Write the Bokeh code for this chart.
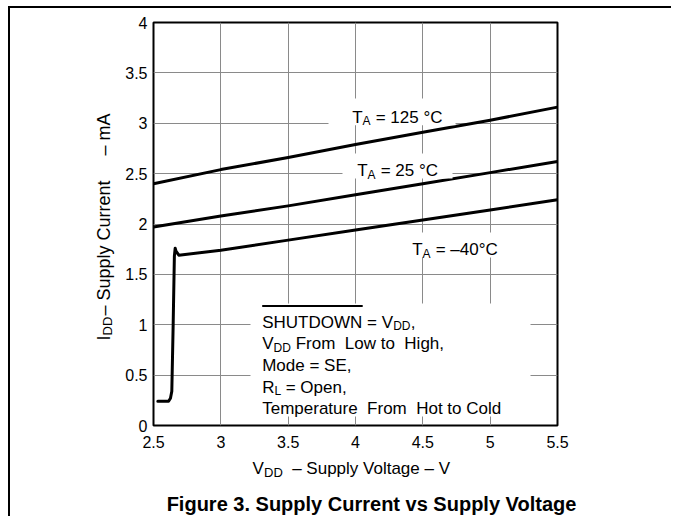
import math
from bokeh.plotting import figure
from bokeh.models import Label, Range1d, FixedTicker
from bokeh.embed import file_html
from bokeh.resources import INLINE

# ---------------- data ----------------
x_ticks = [2.5, 3.0, 3.5, 4.0, 4.5, 5.0, 5.5]
x_tick_labels = ["2.5", "3", "3.5", "4", "4.5", "5", "5.5"]
y_ticks = [0, 0.5, 1.0, 1.5, 2.0, 2.5, 3.0, 3.5, 4.0]
y_tick_labels = ["0", "0.5", "1", "1.5", "2", "2.5", "3", "3.5", "4"]

vdd_125c = [2.5, 3.0, 3.5, 4.0, 4.5, 5.0, 5.5]
idd_125c = [2.40, 2.54, 2.66, 2.79, 2.91, 3.03, 3.16]

vdd_25c = [2.5, 3.0, 3.5, 4.0, 4.5, 5.0, 5.5]
idd_25c = [1.97, 2.08, 2.18, 2.29, 2.40, 2.51, 2.62]

vdd_m40c = [2.532, 2.612, 2.626, 2.636, 2.646, 2.655, 2.661, 2.667, 2.688,
            3.0, 3.5, 4.0, 4.5, 5.0, 5.5]
idd_m40c = [0.24, 0.24, 0.27, 0.34, 1.00, 1.68, 1.76, 1.73, 1.69,
            1.74, 1.84, 1.94, 2.04, 2.14, 2.24]

# ---------------- layout helpers (page pixel -> data) ----------------
FX0, FX1, FY0, FY1 = 153.0, 557.0, 22.0, 425.0   # frame in page pixels
CX, CY = 10, 8                                   # canvas origin on the page
W, H = 663, 510


def px2x(px):
    return 2.5 + (px - FX0) / (FX1 - FX0) * 3.0


def px2y(py):
    return (FY1 - py) / (FY1 - FY0) * 4.0


FONT = "Liberation Sans"
TICK = 16
AX = 17
ANN = 17
SUB = 12
NB = "\u00a0"

p = figure(width=W, height=H, x_range=Range1d(2.5, 5.5), y_range=Range1d(0, 4),
           output_backend="svg", toolbar_location=None,
           min_border_left=int(FX0 - CX), min_border_right=int(CX + W - FX1),
           min_border_top=int(FY0 - CY), min_border_bottom=int(CY + H - FY1))
p.styles = {"margin-left": "8px", "margin-top": "6px",
            "border-left": "2px solid black", "border-top": "2px solid black"}
p.background_fill_color = "white"
p.border_fill_color = "white"
p.outline_line_color = "black"
p.outline_line_width = 2

for ax, ticks, labels in ((p.xaxis, x_ticks, x_tick_labels), (p.yaxis, y_ticks, y_tick_labels)):
    ax.ticker = FixedTicker(ticks=ticks)
    ax.major_label_overrides = {t: l for t, l in zip(ticks, labels)}
    ax.axis_line_color = None
    ax.major_tick_line_color = None
    ax.minor_tick_line_color = None
    ax.major_tick_out = 0
    ax.major_tick_in = 0
    ax.major_label_text_font = FONT
    ax.major_label_text_font_size = f"{TICK}px"
    ax.major_label_text_color = "black"
p.xaxis.major_label_standoff = 10
p.yaxis.major_label_standoff = 6

p.xgrid.ticker = FixedTicker(ticks=x_ticks)
p.ygrid.ticker = FixedTicker(ticks=y_ticks)
for g in (p.xgrid, p.ygrid):
    g.grid_line_color = "#8a8a8a"
    g.grid_line_width = 1

# ---------------- curves ----------------
for xs, ys in ((vdd_125c, idd_125c), (vdd_25c, idd_25c), (vdd_m40c, idd_m40c)):
    p.line(xs, ys, line_color="black", line_width=3, line_join="round", line_cap="round")

# white backgrounds of the labels (drawn over grid and curves)
boxes_px = [(328, 455, 98, 124.8), (342, 452, 153, 178), (390, 515, 232, 257), (250, 530, 303, 416)]
p.quad(left=[px2x(b[0]) for b in boxes_px], right=[px2x(b[1]) for b in boxes_px],
       top=[px2y(b[2]) for b in boxes_px], bottom=[px2y(b[3]) for b in boxes_px],
       fill_color="white", line_color=None)


def lab(px, py, text, size=ANN, dx=0.0, dy=0.0, side=None, bold=False, align="left", **kw):
    lb = Label(x=px2x(px), y=px2y(py), text=text, x_offset=dx, y_offset=dy,
               text_font=FONT, text_font_size=f"{size}px", text_color="black",
               text_font_style="bold" if bold else "normal", text_align=align,
               text_baseline="alphabetic", **kw)
    if side is None:
        p.add_layout(lb)
    else:
        p.add_layout(lb, side)


# temperature labels  T_A = ...
for px, py, rest in ((351.7, 116.5, "= 125 °C"), (356.7, 170.0, "= 25 °C"), (411.7, 249.0, "= –40°C")):
    lab(px, py, "T")
    lab(px, py, "A", size=SUB, dx=10.4, dy=-4)
    lab(px, py, rest, dx=23.5)

# condition block
x0 = 261.7
lab(x0, 321.5, "SHUTDOWN = V")
lab(x0, 321.5, "DD", size=SUB, dx=131.0, dy=-4)
lab(x0, 321.5, ",", dx=148.5)
p.segment(x0=[px2x(x0)], y0=[px2y(305.5)], x1=[px2x(x0 + 100.5)], y1=[px2y(305.5)],
          line_color="black", line_width=2)

lab(x0, 343.2, "V")
lab(x0, 343.2, "DD", size=SUB, dx=11.3, dy=-4)
lab(x0, 343.2, "From" + NB + " Low to" + NB + " High,", dx=33.5)

lab(x0, 364.8, "Mode = SE,")

lab(x0, 386.5, "R")
lab(x0, 386.5, "L", size=SUB, dx=12.3, dy=-4)
lab(x0, 386.5, "= Open,", dx=23.5)

lab(x0, 408.2, "Temperature" + NB + " From" + NB + " Hot to Cold")

# x-axis title (outside the frame -> side panels, so it is not clipped)
lab(252, 468, "V" + NB * 6 + "– Supply Voltage – V", size=AX, side="below")
lab(263.5, 472, "DD", size=SUB + 1, side="left")

# y-axis title (rotated)
ang = math.pi / 2
lab(103.3, 340, "I" + NB * 4 + "– Supply Current" + NB * 5 + "– mA", size=18, angle=ang, side="left")
lab(106.8, 335, "DD", size=SUB + 1, angle=ang, side="left")

# figure caption
lab(371, 503.6, "Figure 3. Supply Current vs Supply Voltage", size=20, bold=True,
    align="center", side="below")

open("out.html", "w").write(file_html(p, INLINE))
